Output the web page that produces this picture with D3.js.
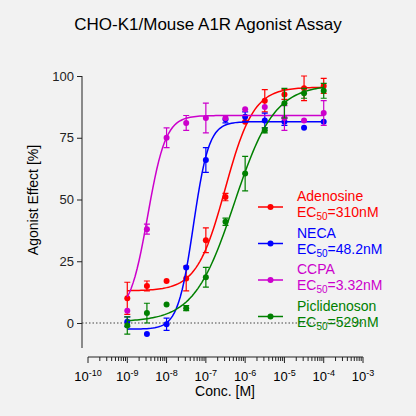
<!DOCTYPE html><html><head><script src="https://cdn.jsdelivr.net/npm/d3@7"></script>
<style>body{margin:0;background:#f2f2f2}</style></head><body><svg id="c" width="416" height="416"></svg><script>
const conc=[1e-9,3.16e-9,1e-8,3.16e-8,1e-7,3.16e-7,1e-6,3.16e-6,1e-5,3.16e-5,1e-4];
const names=["Adenosine","NECA","CCPA","Piclidenoson"];
const ec50Labels=["=310nM","=48.2nM","=3.32nM","=529nM"];
const colors=["#ff0000","#0000ff","#cc00cc","#008000"];
const adenosine=[10,15,17,18,33.5,51,81.5,90,92.5,95,96];
const adenosineErr=[6.5,2,0,5,5,1.5,0,4.5,2,5,3];
const neca=[0.5,-4.5,-0.5,22.5,66,82.5,83.5,82,81.5,79,81.5];
const necaErr=[2,0,2.5,0,5,1.5,2,3,1.5,0,0];
const ccpa=[5,38,75,81,83,83,86.5,87.5,83,82,85];
const ccpaErr=[0,2,4,3,6,0,0,0,5,0,5];
const picl=[-1,4,7.5,6,18.5,41,60.5,78,89,93,94];
const piclErr=[3.5,4,0,1,4,1.5,7,1,6,2,3];
const fits=[[13,95.5,3.1e-7,1.2],[-2.5,81.5,4.82e-8,2.2],[3,84,3.32e-9,1.9],[0.5,96.5,5.29e-7,0.85]];
const series=[[adenosine,adenosineErr],[neca,necaErr],[ccpa,ccpaErr],[picl,piclErr]];
const xTicks=[-10,-9,-8,-7,-6,-5,-4,-3];
const yTicks=[0,25,50,75,100];
const FF="Liberation Sans, Arial";
const svg=d3.select("#c");
const x=d3.scaleLog().domain([1e-10,1e-3]).range([88,363]);
const y=d3.scaleLinear().domain([0,100]).range([323,76]);
svg.append("text").attr("x",208).attr("y",30).attr("text-anchor","middle").attr("font-family",FF).attr("font-size",17).text("CHO-K1/Mouse A1R Agonist Assay");
const ya=svg.append("g").attr("transform","translate(82,0)").call(d3.axisLeft(y).tickValues(yTicks).tickSize(5));
ya.select(".domain").attr("d","M0,76V348");
const minor=[];for(let e=-10;e<-3;e++)for(let k=1;k<10;k++)minor.push(k*Math.pow(10,e));minor.push(1e-3);
const xa=svg.append("g").attr("transform","translate(0,357)");
xa.append("path").attr("d","M88,0H363").attr("stroke","#222");
xa.selectAll("line").data(minor).join("line").attr("x1",d=>x(d)).attr("x2",d=>x(d)).attr("y1",0).attr("y2",d=>{const l=Math.log10(d);return Math.abs(l-Math.round(l))<1e-6?6:4}).attr("stroke","#222");
const tl=xa.selectAll("text.t").data(xTicks).join("text").attr("class","t").attr("x",d=>x(Math.pow(10,d))).attr("y",24).attr("text-anchor","middle").attr("font-family",FF).attr("font-size",13);
tl.append("tspan").text("10");tl.append("tspan").attr("dy",-5).attr("font-size",9).text(d=>d);
svg.selectAll("g .tick text").attr("font-family",FF).attr("font-size",13).attr("fill","#222");
svg.selectAll("g .domain, g .tick line").attr("stroke","#222");
svg.append("text").attr("x",225).attr("y",396).attr("text-anchor","middle").attr("font-family",FF).attr("font-size",14).text("Conc. [M]");
svg.append("text").attr("transform","translate(38,200) rotate(-90)").attr("text-anchor","middle").attr("font-family",FF).attr("font-size",14).text("Agonist Effect [%]");
svg.append("line").attr("x1",82).attr("x2",363).attr("y1",y(0)).attr("y2",y(0)).attr("stroke","#444").attr("stroke-dasharray","1.5,2");
const cx=d3.range(0,101).map(i=>Math.pow(10,-9+5*i/100));
series.forEach(([v,e],i)=>{
 const c=colors[i],f=fits[i];
 const g=svg.append("g");
 g.append("path").attr("d",d3.line().x(d=>x(d)).y(d=>y(f[0]+(f[1]-f[0])/(1+Math.pow(f[2]/d,f[3]))))(cx)).attr("fill","none").attr("stroke",c).attr("stroke-width",1.5);
 conc.forEach((cc,j)=>{
  if(e[j]>0){const px=x(cc);
   g.append("path").attr("d",`M${px},${y(v[j]-e[j])}V${y(v[j]+e[j])}M${px-3},${y(v[j]-e[j])}H${px+3}M${px-3},${y(v[j]+e[j])}H${px+3}`).attr("stroke",c).attr("stroke-width",1.2).attr("fill","none");}
  g.append("circle").attr("cx",x(cc)).attr("cy",y(v[j])).attr("r",3).attr("fill",c);
 });
 const ly=207+i*36.5;
 svg.append("line").attr("x1",258).attr("x2",283).attr("y1",ly).attr("y2",ly).attr("stroke",c).attr("stroke-width",1.5);
 svg.append("circle").attr("cx",270.5).attr("cy",ly).attr("r",3).attr("fill",c);
 const t=svg.append("g").attr("font-family",FF).attr("font-size",14).attr("fill",c);
 t.append("text").attr("x",297).attr("y",ly-6).text(names[i]);
 const t2=t.append("text").attr("x",297).attr("y",ly+10);
 t2.append("tspan").text("EC");t2.append("tspan").attr("dy",3).attr("font-size",10).text("50");t2.append("tspan").attr("dy",-3).text(ec50Labels[i]);
});
</script></body></html>
